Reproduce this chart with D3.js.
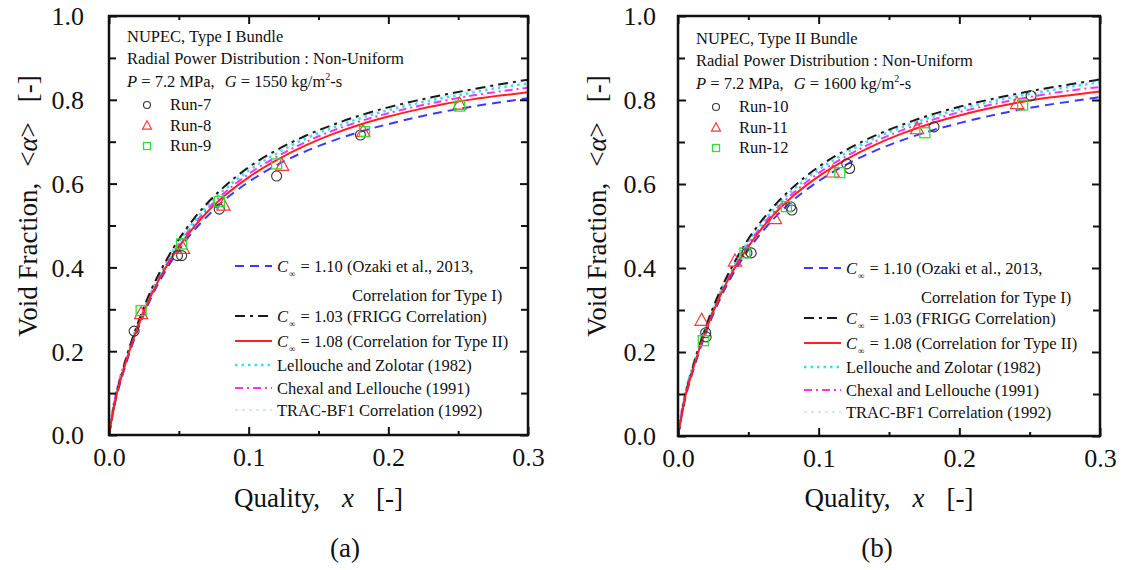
<!DOCTYPE html>
<html><head><meta charset="utf-8">
<script src="https://cdn.jsdelivr.net/npm/d3@7"></script>
<style>
body{margin:0;background:#fff}
svg{display:block}
text{font-family:"Liberation Serif","Times New Roman",serif;fill:#111}
</style>
</head><body>
<svg id="chart" width="1128" height="570"></svg>
<script>
// ---------------- data ----------------
const xTicks = [0, 0.1, 0.2, 0.3];
const xMinorTicks = [0.05, 0.15, 0.25];
const yTicks = [0, 0.2, 0.4, 0.6, 0.8, 1.0];
const yMinorTicks = [0.1, 0.3, 0.5, 0.7, 0.9];

const xGrid = [0, 0.0025, 0.005, 0.01, 0.015, 0.02, 0.03, 0.04, 0.05, 0.06, 0.07, 0.08, 0.10, 0.12, 0.14, 0.16, 0.18, 0.20, 0.22, 0.24, 0.26, 0.28, 0.30];

// panel (a)
const aOzaki   = [0, 0.046, 0.086, 0.146, 0.199, 0.246, 0.326, 0.389, 0.441, 0.485, 0.521, 0.553, 0.604, 0.644, 0.676, 0.702, 0.724, 0.742, 0.758, 0.772, 0.784, 0.794, 0.804];
const aFrigg   = [0, 0.049, 0.092, 0.156, 0.212, 0.261, 0.345, 0.411, 0.467, 0.513, 0.552, 0.585, 0.639, 0.680, 0.713, 0.740, 0.763, 0.782, 0.798, 0.812, 0.825, 0.837, 0.848];
const aTypeII  = [0, 0.048, 0.090, 0.151, 0.205, 0.252, 0.332, 0.396, 0.449, 0.493, 0.531, 0.563, 0.615, 0.656, 0.690, 0.718, 0.741, 0.760, 0.776, 0.790, 0.801, 0.810, 0.818];
const aLZ      = [0, 0.055, 0.098, 0.160, 0.213, 0.259, 0.340, 0.406, 0.461, 0.506, 0.545, 0.577, 0.631, 0.672, 0.706, 0.733, 0.756, 0.775, 0.791, 0.805, 0.817, 0.829, 0.839];
const aCL      = [0, 0.058, 0.100, 0.160, 0.211, 0.256, 0.337, 0.401, 0.455, 0.500, 0.538, 0.570, 0.623, 0.664, 0.698, 0.726, 0.749, 0.768, 0.784, 0.798, 0.810, 0.820, 0.829];
const aTrac    = [0, 0.050, 0.094, 0.157, 0.212, 0.260, 0.343, 0.409, 0.464, 0.510, 0.549, 0.582, 0.636, 0.677, 0.710, 0.737, 0.760, 0.779, 0.795, 0.809, 0.822, 0.833, 0.844];

// panel (b)
const bOzaki   = [0, 0.046, 0.087, 0.147, 0.200, 0.247, 0.327, 0.391, 0.443, 0.487, 0.524, 0.556, 0.607, 0.647, 0.679, 0.705, 0.727, 0.745, 0.761, 0.775, 0.787, 0.797, 0.807];
const bFrigg   = [0, 0.049, 0.093, 0.157, 0.213, 0.262, 0.346, 0.413, 0.469, 0.515, 0.554, 0.587, 0.641, 0.682, 0.715, 0.742, 0.765, 0.784, 0.800, 0.814, 0.827, 0.838, 0.849];
const bTypeII  = [0, 0.048, 0.091, 0.152, 0.206, 0.253, 0.334, 0.398, 0.451, 0.496, 0.534, 0.566, 0.618, 0.659, 0.693, 0.721, 0.744, 0.763, 0.779, 0.793, 0.804, 0.812, 0.820];
const bLZ      = [0, 0.055, 0.098, 0.161, 0.214, 0.260, 0.342, 0.408, 0.463, 0.508, 0.547, 0.580, 0.634, 0.675, 0.709, 0.736, 0.759, 0.778, 0.794, 0.808, 0.820, 0.832, 0.842];
const bCL      = [0, 0.058, 0.100, 0.161, 0.212, 0.257, 0.339, 0.403, 0.457, 0.502, 0.541, 0.573, 0.626, 0.667, 0.701, 0.729, 0.752, 0.771, 0.787, 0.801, 0.813, 0.823, 0.831];
const bTrac    = [0, 0.050, 0.094, 0.158, 0.213, 0.261, 0.344, 0.411, 0.466, 0.512, 0.551, 0.584, 0.638, 0.679, 0.712, 0.739, 0.762, 0.781, 0.797, 0.811, 0.824, 0.835, 0.846];

// measured runs
const run7X  = [0.018, 0.049, 0.052, 0.079, 0.120, 0.180];
const run7Y  = [0.248, 0.428, 0.428, 0.539, 0.618, 0.716];
const run8X  = [0.023, 0.053, 0.082, 0.124, 0.182, 0.251];
const run8Y  = [0.290, 0.446, 0.549, 0.644, 0.725, 0.790];
const run9X  = [0.023, 0.052, 0.079, 0.120, 0.183, 0.251];
const run9Y  = [0.297, 0.456, 0.557, 0.647, 0.724, 0.785];

const run10X = [0.0197, 0.020, 0.049, 0.052, 0.080, 0.081, 0.120, 0.122, 0.182, 0.251];
const run10Y = [0.246, 0.236, 0.436, 0.436, 0.546, 0.538, 0.648, 0.637, 0.736, 0.810];
const run11X = [0.0168, 0.0405, 0.069, 0.110, 0.170, 0.241];
const run11Y = [0.276, 0.417, 0.518, 0.629, 0.732, 0.792];
const run12X = [0.018, 0.0476, 0.077, 0.115, 0.1755, 0.245];
const run12Y = [0.227, 0.436, 0.546, 0.627, 0.722, 0.788];

const legendLabels = [
  {c: "1.10", t: " = 1.10 (Ozaki et al., 2013,"},
  {t: "Correlation for Type I)"},
  {c: "1.03", t: " = 1.03 (FRIGG Correlation)"},
  {c: "1.08", t: " = 1.08 (Correlation for Type II)"},
  {t: "Lellouche and Zolotar (1982)"},
  {t: "Chexal and Lellouche (1991)"},
  {t: "TRAC-BF1 Correlation (1992)"}
];

// ---------------- styles ----------------
const styles = {
  ozaki:  {color: "#3a3aff", dash: "9,6", w: 2},
  frigg:  {color: "#1a1a1a", dash: "10,5,3,5", w: 2},
  typeII: {color: "#ff2020", dash: null, w: 2},
  lz:     {color: "#2ee3ec", dash: "2.5,4", w: 2.4},
  cl:     {color: "#ff30ff", dash: "8,4,2,4", w: 2},
  trac:   {color: "#dbe8ea", dash: "3,4", w: 2}
};

const panels = [
  {
    left: 109, right: 528, top: 16, bottom: 435, hdrDy: 0, legDy: 0, tickGap: 25,
    title: "NUPEC, Type I Bundle", G: "1550",
    curves: {ozaki: aOzaki, frigg: aFrigg, typeII: aTypeII, lz: aLZ, cl: aCL, trac: aTrac},
    runs: [
      {name: "Run-7", sym: "circle", x: run7X, y: run7Y},
      {name: "Run-8", sym: "triangle", x: run8X, y: run8Y},
      {name: "Run-9", sym: "square", x: run9X, y: run9Y}
    ],
    label: "(a)", labelX: 345
  },
  {
    left: 678, right: 1100, top: 16, bottom: 436, hdrDy: 2, legDy: 2, tickGap: 22,
    title: "NUPEC, Type II Bundle", G: "1600",
    curves: {ozaki: bOzaki, frigg: bFrigg, typeII: bTypeII, lz: bLZ, cl: bCL, trac: bTrac},
    runs: [
      {name: "Run-10", sym: "circle", x: run10X, y: run10Y},
      {name: "Run-11", sym: "triangle", x: run11X, y: run11Y},
      {name: "Run-12", sym: "square", x: run12X, y: run12Y}
    ],
    label: "(b)", labelX: 877
  }
];

const symColor = {circle: "#333", triangle: "#ff3535", square: "#33dd33"};

function drawSymbol(g, sym, cx, cy, s) {
  if (sym === "circle") {
    g.append("circle").attr("cx", cx).attr("cy", cy).attr("r", s * 0.5)
      .attr("fill", "none").attr("stroke", symColor.circle).attr("stroke-width", 1.1);
  } else if (sym === "square") {
    g.append("rect").attr("x", cx - s * 0.5).attr("y", cy - s * 0.5).attr("width", s).attr("height", s)
      .attr("fill", "none").attr("stroke", symColor.square).attr("stroke-width", 1.3);
  } else {
    const h = s * 1.05, w = s * 1.2;
    g.append("path").attr("d", `M${cx},${cy - h * 0.6}L${cx + w / 2},${cy + h * 0.45}L${cx - w / 2},${cy + h * 0.45}Z`)
      .attr("fill", "none").attr("stroke", symColor.triangle).attr("stroke-width", 1.2);
  }
}

const svg = d3.select("#chart");
const fmt = d3.format(".1f");

panels.forEach(p => {
  const x = d3.scaleLinear().domain([0, 0.3]).range([p.left, p.right]);
  const y = d3.scaleLinear().domain([0, 1]).range([p.bottom, p.top]);
  const g = svg.append("g");

  // curves
  const order = ["trac", "cl", "lz", "ozaki", "frigg", "typeII"];
  order.forEach(k => {
    const st = styles[k];
    const pts = xGrid.map((xv, i) => [xv, p.curves[k][i]]);
    g.append("path")
      .attr("d", d3.line().x(d => x(d[0])).y(d => y(d[1])).curve(d3.curveMonotoneX)(pts))
      .attr("fill", "none").attr("stroke", st.color).attr("stroke-width", st.w)
      .attr("stroke-dasharray", st.dash);
  });

  // markers
  p.runs.forEach(r => {
    r.x.forEach((xv, i) => drawSymbol(g, r.sym, x(xv), y(r.y[i]), r.sym === "triangle" ? 11 : 10));
  });

  // axes (inward ticks on all sides)
  const axG = g.append("g");
  const bottomAx = axG.append("g").attr("transform", `translate(0,${p.bottom})`)
    .call(d3.axisBottom(x).tickValues(xTicks).tickSize(-8).tickPadding(12).tickFormat(fmt));
  axG.append("g").attr("transform", `translate(0,${p.bottom})`)
    .call(d3.axisBottom(x).tickValues(xMinorTicks).tickSize(-4).tickFormat(""));
  axG.append("g").attr("transform", `translate(0,${p.top})`)
    .call(d3.axisTop(x).tickValues(xTicks).tickSize(-8).tickFormat(""));
  axG.append("g").attr("transform", `translate(0,${p.top})`)
    .call(d3.axisTop(x).tickValues(xMinorTicks).tickSize(-4).tickFormat(""));
  const leftAx = axG.append("g").attr("transform", `translate(${p.left},0)`)
    .call(d3.axisLeft(y).tickValues(yTicks).tickSize(-8).tickPadding(p.tickGap - 8 + 8).tickFormat(fmt));
  axG.append("g").attr("transform", `translate(${p.left},0)`)
    .call(d3.axisLeft(y).tickValues(yMinorTicks).tickSize(-7).tickFormat(""));
  axG.append("g").attr("transform", `translate(${p.right},0)`)
    .call(d3.axisRight(y).tickValues(yTicks).tickSize(-8).tickFormat(""));
  axG.append("g").attr("transform", `translate(${p.right},0)`)
    .call(d3.axisRight(y).tickValues(yMinorTicks).tickSize(-7).tickFormat(""));
  axG.selectAll(".domain").remove();
  axG.selectAll(".tick line").attr("stroke", "#111").attr("stroke-width", 2);
  axG.selectAll("text").attr("font-family", "Liberation Serif, serif").attr("font-size", 26).attr("fill", "#111");
  bottomAx.selectAll("text").attr("dy", "0.71em").attr("y", 13);
  leftAx.selectAll("text").attr("x", -p.tickGap).attr("dy", "0.34em");

  g.append("rect").attr("x", p.left).attr("y", p.top)
    .attr("width", p.right - p.left).attr("height", p.bottom - p.top)
    .attr("fill", "none").attr("stroke", "#111").attr("stroke-width", 2.5);

  // axis titles
  const cx = (p.left + p.right) / 2;
  const xt = g.append("text").attr("x", cx).attr("y", 507).attr("text-anchor", "middle").attr("font-size", 27);
  xt.append("tspan").text("Quality,");
  xt.append("tspan").attr("dx", 22).attr("font-style", "italic").text("x");
  xt.append("tspan").attr("dx", 22).text("[-]");

  const yt = g.append("text").attr("transform", `translate(${p.left - 72},206) rotate(-90)`)
    .attr("text-anchor", "middle").attr("font-size", 27);
  yt.append("tspan").text("Void Fraction,");
  yt.append("tspan").attr("dx", 16).text("<");
  yt.append("tspan").attr("font-style", "italic").text("α");
  yt.append("tspan").text(">");
  yt.append("tspan").attr("dx", 20).text("[-]");

  g.append("text").attr("x", p.labelX).attr("y", 557).attr("text-anchor", "middle")
    .attr("font-size", 27).text(p.label);

  // header annotation
  const hx = p.left + 18, hy = 42 + p.hdrDy;
  g.append("text").attr("x", hx).attr("y", hy).attr("font-size", 16.5).text(p.title);
  g.append("text").attr("x", hx).attr("y", hy + 21.5).attr("font-size", 16.5)
    .text("Radial Power Distribution : Non-Uniform");
  const pt = g.append("text").attr("x", hx).attr("y", hy + 45).attr("font-size", 16.5);
  pt.append("tspan").attr("font-style", "italic").text("P");
  pt.append("tspan").text(" = 7.2 MPa,");
  pt.append("tspan").attr("dx", 10).attr("font-style", "italic").text("G");
  pt.append("tspan").text(` = ${p.G} kg/m`);
  pt.append("tspan").attr("dy", -7).attr("font-size", 10).text("2");
  pt.append("tspan").attr("dy", 7).text("-s");

  p.runs.forEach((r, i) => {
    const ry = hy + 68 + i * 20.5;
    drawSymbol(g, r.sym, p.left + 38, ry - 5, r.sym === "triangle" ? 7.5 : 7);
    g.append("text").attr("x", p.left + 61).attr("y", ry).attr("font-size", 16.5).text(r.name);
  });

  // legend
  const legKeys = ["ozaki", null, "frigg", "typeII", "lz", "cl", "trac"];
  const rowY = [272, 301, 322, 347, 371, 394, 416].map(v => v + p.legDy);
  legKeys.forEach((k, i) => {
    const by = rowY[i];
    if (k) {
      const st = styles[k];
      g.append("line").attr("x1", p.left + 126).attr("x2", p.left + 163)
        .attr("y1", by - 6).attr("y2", by - 6)
        .attr("stroke", st.color).attr("stroke-width", st.w).attr("stroke-dasharray", st.dash);
    }
    const lab = legendLabels[i];
    const t = g.append("text").attr("y", by).attr("font-size", 16.5)
      .attr("x", k ? p.left + 168 : p.left + 243);
    if (lab.c) {
      t.append("tspan").attr("font-style", "italic").text("C");
      t.append("tspan").attr("font-size", 9).attr("dy", 5).attr("dx", 1).text("∞");
      t.append("tspan").attr("dy", -5).attr("dx", 1).text(lab.t);
    } else {
      t.text(lab.t);
    }
  });
});
</script>
</body></html>
